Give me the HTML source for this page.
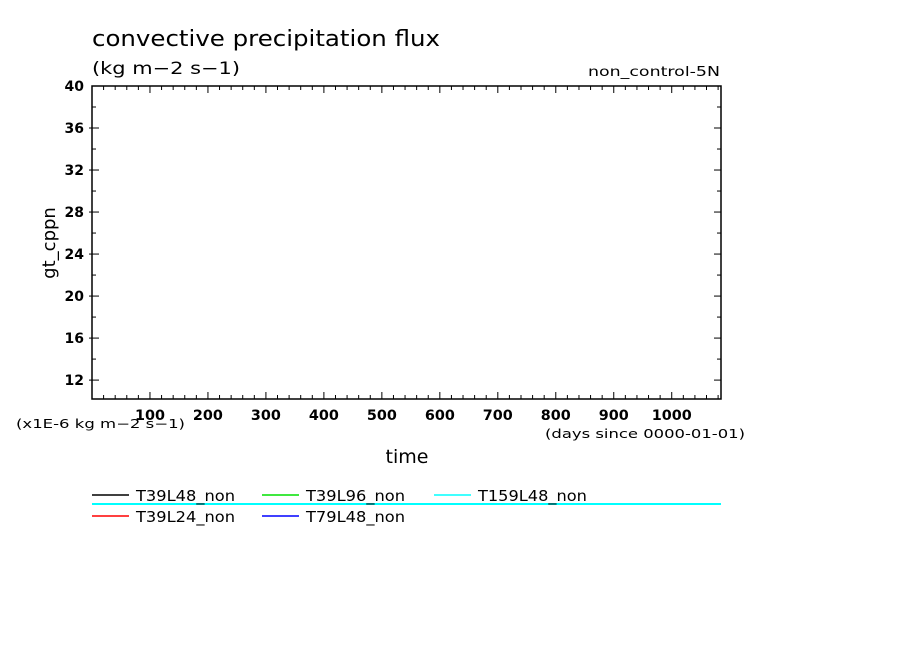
<!DOCTYPE html>
<html><head><meta charset="utf-8"><style>
body{margin:0;background:#fff;}
svg text{font-family:"DejaVu Sans","Liberation Sans",sans-serif;fill:#000;}
</style></head><body>
<svg id="chart" width="904" height="654" viewBox="0 0 904 654" xmlns="http://www.w3.org/2000/svg">
<rect width="904" height="654" fill="#fff"/>
<text x="92" y="46" font-size="22" textLength="348" lengthAdjust="spacingAndGlyphs">convective precipitation flux</text>
<text x="92" y="74" font-size="17" textLength="148" lengthAdjust="spacingAndGlyphs">(kg m−2 s−1)</text>
<text x="588" y="76" font-size="13" textLength="132" lengthAdjust="spacingAndGlyphs">non_control-5N</text>
<text transform="translate(55,243) rotate(-90)" font-size="18" text-anchor="middle">gt_cppn</text>
<text x="407" y="463" font-size="19" text-anchor="middle">time</text>
<text x="16" y="428" font-size="12" textLength="169" lengthAdjust="spacingAndGlyphs">(x1E-6 kg m−2 s−1)</text>
<text x="545" y="438" font-size="12" textLength="200" lengthAdjust="spacingAndGlyphs">(days since 0000-01-01)</text>
<g id="axes"></g>
<g id="series"></g>
<g id="legend"></g>
</svg>
<script>
const xTicks=[100,200,300,400,500,600,700,800,900,1000];
const yTicks=[12,16,20,24,28,32,36,40];
const seriesNames=["T39L48_non","T39L96_non","T159L48_non","T39L24_non","T79L48_non"];
const seriesColors=["#000","#00e000","#00ffff","#ff0000","#0000ff"];
const cyanTimes=[0,1085];
const cyanValues=[0.2,0.2];
const X0=92,X1=721,Y0=86,Y1=399,xmin=0,xmax=1085,ymin=10.2,ymax=40;
const NS="http://www.w3.org/2000/svg";
const sx=v=>X0+(v-xmin)/(xmax-xmin)*(X1-X0);
const sy=v=>Y1-(v-ymin)/(ymax-ymin)*(Y1-Y0);
function mk(tag,attrs,parent){const e=document.createElementNS(NS,tag);for(const k in attrs)e.setAttribute(k,attrs[k]);parent.appendChild(e);return e;}
const ax=document.getElementById('axes');
const frame=mk('rect',{x:X0,y:Y0,width:X1-X0,height:Y1-Y0,fill:'none',stroke:'#000','stroke-width':1.5},ax);


for(let v=20;v<xmax;v+=20){const x=sx(v);const L=(v%100===0)?7:4;
 mk('line',{x1:x,y1:Y1,x2:x,y2:Y1-L,stroke:'#000'},ax);mk('line',{x1:x,y1:Y0,x2:x,y2:Y0+L,stroke:'#000'},ax);}
for(let v=12;v<ymax;v+=2){const y=sy(v);const L=(v%4===0)?7:4;
 mk('line',{x1:X0-(v%4===0?3:0),y1:y,x2:X0+L,y2:y,stroke:'#000'},ax);mk('line',{x1:X1,y1:y,x2:X1-L,y2:y,stroke:'#000'},ax);}
xTicks.forEach(v=>{const s=String(v);const t=mk('text',{x:sx(v),y:420,'font-size':14,'font-weight':'bold','text-anchor':'middle',textLength:s.length*10,lengthAdjust:'spacingAndGlyphs'},ax);t.textContent=s;
 
 });
yTicks.forEach(v=>{const t=mk('text',{x:84,y:sy(v)+5,'font-size':14,'font-weight':'bold','text-anchor':'end'},ax);t.textContent=v;
 
 });
const sg=document.getElementById('series');
const pl=mk('polyline',{points:cyanTimes.map((t,i)=>sx(t)+','+sy(cyanValues[i])).join(' '),fill:'none',stroke:'#00ffff','stroke-width':2},sg);


const lg=document.getElementById('legend');
const pos=[[92,495],[262,495],[434,495],[92,516],[262,516]];
seriesNames.forEach((n,i)=>{const [x,y]=pos[i];
 const g=mk('g',{},lg);
 
 
 mk('line',{x1:x,y1:y,x2:x+37,y2:y,stroke:seriesColors[i],'stroke-width':1.5},g);
 const t=mk('text',{x:x+44,y:y+6,'font-size':15,textLength:n.length*9.9,lengthAdjust:'spacingAndGlyphs'},g);t.textContent=n;});
</script>
</body></html>
